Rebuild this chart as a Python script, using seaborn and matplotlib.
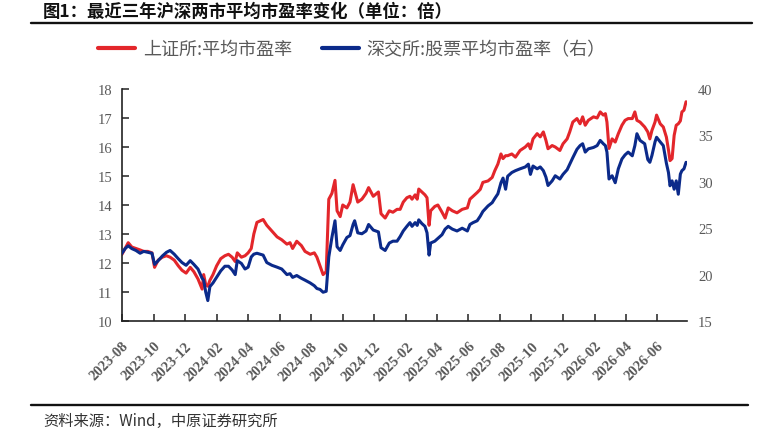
import matplotlib
matplotlib.use("Agg")
import matplotlib.pyplot as plt
from matplotlib.lines import Line2D
import pandas as pd
import seaborn as sns

dates = [
    "2023-08-01", "2023-08-07", "2023-08-13", "2023-08-20", "2023-08-28", "2023-09-05", "2023-09-12",
    "2023-09-20", "2023-09-28", "2023-10-03", "2023-10-10", "2023-10-18", "2023-10-26", "2023-11-02",
    "2023-11-10", "2023-11-18", "2023-11-25", "2023-12-03", "2023-12-11", "2023-12-18", "2023-12-26",
    "2024-01-03", "2024-01-06", "2024-01-10", "2024-01-14", "2024-01-18", "2024-01-24", "2024-01-31",
    "2024-02-08", "2024-02-16", "2024-02-23", "2024-03-01", "2024-03-07", "2024-03-11", "2024-03-19",
    "2024-03-26", "2024-04-01", "2024-04-07", "2024-04-12", "2024-04-18", "2024-04-24", "2024-04-30",
    "2024-05-07", "2024-05-17", "2024-05-27", "2024-06-05", "2024-06-15", "2024-06-21", "2024-06-26",
    "2024-07-04", "2024-07-13", "2024-07-20", "2024-07-30", "2024-08-07", "2024-08-12", "2024-08-18",
    "2024-08-24", "2024-08-30", "2024-09-04", "2024-09-10", "2024-09-16", "2024-09-20", "2024-09-26",
    "2024-10-01", "2024-10-09", "2024-10-15", "2024-10-21", "2024-10-24", "2024-10-30", "2024-11-07",
    "2024-11-15", "2024-11-20", "2024-11-29", "2024-12-09", "2024-12-14", "2024-12-22", "2024-12-30",
    "2025-01-06", "2025-01-14", "2025-01-20", "2025-01-26", "2025-02-02", "2025-02-08", "2025-02-12",
    "2025-02-18", "2025-02-22", "2025-02-25", "2025-03-03", "2025-03-09", "2025-03-13", "2025-03-17",
    "2025-03-20", "2025-03-28", "2025-04-03", "2025-04-11", "2025-04-17", "2025-04-23", "2025-05-01",
    "2025-05-10", "2025-05-20", "2025-05-30", "2025-06-04", "2025-06-10", "2025-06-18", "2025-06-24",
    "2025-06-29", "2025-07-09", "2025-07-17", "2025-07-22", "2025-07-28", "2025-08-03", "2025-08-07",
    "2025-08-12", "2025-08-16", "2025-08-24", "2025-08-31", "2025-09-09", "2025-09-19", "2025-09-25",
    "2025-09-29", "2025-10-04", "2025-10-12", "2025-10-18", "2025-10-24", "2025-10-29", "2025-11-02",
    "2025-11-10", "2025-11-16", "2025-11-25", "2025-12-01", "2025-12-09", "2025-12-14", "2025-12-20",
    "2025-12-28", "2026-01-03", "2026-01-08", "2026-01-13", "2026-01-19", "2026-01-29", "2026-02-05",
    "2026-02-11", "2026-02-17", "2026-02-21", "2026-02-24", "2026-02-28", "2026-03-06", "2026-03-12",
    "2026-03-18", "2026-03-25", "2026-03-31", "2026-04-06", "2026-04-14", "2026-04-19", "2026-04-23",
    "2026-04-29", "2026-05-08", "2026-05-14", "2026-05-18", "2026-05-22", "2026-05-28", "2026-05-31",
    "2026-06-07", "2026-06-13", "2026-06-19", "2026-06-23", "2026-06-26", "2026-06-30", "2026-07-04",
    "2026-07-08", "2026-07-12", "2026-07-16", "2026-07-19", "2026-07-23", "2026-07-27",
]

sse_pe = [
    12.30, 12.50, 12.70, 12.55, 12.50, 12.45, 12.40,
    12.40, 12.35, 11.85, 12.10, 12.20, 12.25, 12.20,
    12.10, 11.90, 11.75, 11.65, 11.85, 11.70, 11.45,
    11.10, 11.60, 11.25, 11.20, 11.40, 11.60, 11.90,
    12.15, 12.25, 12.30, 12.20, 12.05, 12.35, 12.20,
    12.25, 12.35, 12.50, 13.00, 13.40, 13.45, 13.50,
    13.30, 13.10, 12.90, 12.80, 12.65, 12.70, 12.50,
    12.75, 12.60, 12.40, 12.30, 12.35, 12.20, 11.90,
    11.60, 11.70, 14.20, 14.40, 14.85, 13.80, 13.60,
    14.00, 13.90, 14.10, 14.70, 14.50, 14.10, 14.20,
    14.40, 14.60, 14.30, 14.45, 13.70, 13.55, 13.80,
    13.75, 13.85, 13.85, 14.10, 14.25, 14.30, 14.20,
    14.35, 14.20, 14.55, 14.45, 14.35, 14.25, 13.30,
    13.80, 13.95, 14.00, 13.75, 13.55, 13.90, 13.80,
    13.73, 13.85, 13.90, 14.20, 14.30, 14.43, 14.54,
    14.78, 14.83, 14.95, 15.18, 15.41, 15.76, 15.60,
    15.70, 15.70, 15.76, 15.65, 15.88, 16.00, 16.11,
    15.94, 16.28, 16.46, 16.35, 16.52, 16.23, 15.94,
    16.05, 16.00, 15.88, 16.11, 16.28, 16.52, 16.86,
    16.98, 16.80, 17.04, 16.75, 16.92, 17.04, 17.00,
    17.21, 17.10, 17.15, 16.86, 15.95, 16.28, 16.17,
    16.46, 16.75, 16.92, 16.98, 16.98, 17.21, 16.92,
    16.86, 16.69, 16.52, 16.28, 16.57, 16.86, 17.10,
    16.80, 16.69, 16.34, 15.90, 15.53, 15.60, 16.40,
    16.75, 16.80, 16.90, 17.21, 17.27, 17.56,
]

szse_pe = [
    22.3, 22.8, 23.1, 22.8, 22.6, 22.3, 22.5,
    22.4, 22.3, 21.1, 21.5, 22.0, 22.4, 22.6,
    22.2, 21.7, 21.3, 21.0, 21.5, 21.1, 20.6,
    19.6, 19.4, 18.1, 17.2, 18.7, 19.1, 19.7,
    20.4, 20.9, 20.9, 20.5, 20.0, 21.5, 21.2,
    20.6, 20.8, 21.9, 22.2, 22.3, 22.2, 22.1,
    21.3, 21.0, 20.8, 20.6, 20.0, 20.1, 19.7,
    19.9, 19.6, 19.4, 19.1, 18.8, 18.5, 18.4,
    18.1, 18.2, 21.9, 24.0, 25.8, 23.0, 22.6,
    23.2, 24.0, 24.2, 25.4, 25.8, 24.5, 24.4,
    24.7, 25.4, 24.8, 24.6, 22.9, 22.6, 23.4,
    23.6, 23.6, 24.1, 24.7, 25.2, 25.6, 25.2,
    25.6, 25.3, 25.9, 25.5, 25.2, 24.5, 22.1,
    23.4, 23.6, 23.9, 24.3, 24.9, 25.2, 24.9,
    24.7, 25.0, 24.7, 25.4, 25.6, 25.8, 26.3,
    26.8, 27.4, 27.75, 28.2, 28.7, 29.9, 30.4,
    29.2, 30.6, 31.0, 31.2, 31.4, 31.6, 31.9,
    30.8, 31.7, 31.4, 31.6, 31.2, 30.5, 29.6,
    30.1, 30.65, 30.3, 30.8, 31.3, 31.9, 32.6,
    33.5, 33.9, 34.1, 33.2, 33.55, 33.7, 33.9,
    34.46, 34.1, 33.9, 33.2, 30.3, 30.65, 29.9,
    31.4, 32.46, 32.9, 33.2, 32.8, 33.9, 35.18,
    34.46, 34.1, 32.4, 32.1, 32.83, 34.3, 34.8,
    34.3, 33.9, 32.0, 31.0, 29.57, 30.1, 29.2,
    30.1, 28.66, 30.83, 31.2, 31.4, 32.1,
]

tick_labels = ["2023-08", "2023-10", "2023-12", "2024-02", "2024-04", "2024-06",
               "2024-08", "2024-10", "2024-12", "2025-02", "2025-04", "2025-06",
               "2025-08", "2025-10", "2025-12", "2026-02", "2026-04", "2026-06"]

title_text = "图1：最近三年沪深两市平均市盈率变化（单位：倍）"
source_text = "资料来源：Wind，中原证券研究所"
label_sse = "上证所:平均市盈率"
label_szse = "深交所:股票平均市盈率（右）"

df = pd.DataFrame({"date": pd.to_datetime(dates), "sse": sse_pe, "szse": szse_pe})

sns.set_theme(style="white")
plt.rcParams["font.family"] = ["Noto Sans CJK SC", "DejaVu Sans"]

RED = "#E3262B"
BLUE = "#0B2A8A"
GREY = "#595959"

fig = plt.figure(figsize=(7.79, 4.35), dpi=100)
ax = fig.add_axes([0.1566, 0.2598, 0.7254, 0.5333])
ax2 = ax.twinx()

sns.lineplot(data=df, x="date", y="sse", ax=ax, color=RED, linewidth=2.2, legend=False)
sns.lineplot(data=df, x="date", y="szse", ax=ax2, color=BLUE, linewidth=2.2, legend=False)

ax.set_xlim(pd.Timestamp("2023-08-01"), pd.Timestamp("2026-07-29"))
ax.set_ylim(10, 18)
ax2.set_ylim(15, 40)
ax.set_yticks(range(10, 19))
ax2.set_yticks(range(15, 41, 5))

ticks = pd.to_datetime([t + "-01" for t in tick_labels])
ax.set_xticks(ticks)
ax.set_xticklabels(tick_labels)

ax.set_xlabel("")
ax.set_ylabel("")
ax2.set_ylabel("")

for s in ["top", "right"]:
    ax.spines[s].set_visible(False)
for s in ["top", "right", "left", "bottom"]:
    ax2.spines[s].set_visible(False)
for s in ["left", "bottom"]:
    ax.spines[s].set_color("#222222")
    ax.spines[s].set_linewidth(1.2)

ax.tick_params(axis="y", direction="in", length=5, width=1.1, color="#222222", pad=7,
               labelsize=10.5, labelcolor=GREY, left=True)
ax.tick_params(axis="x", direction="in", length=5, width=1.1, color="#222222", pad=13,
               bottom=True)
ax2.tick_params(axis="y", length=0, pad=8, labelsize=10.5, labelcolor=GREY)

for lbl in ax.get_yticklabels() + ax2.get_yticklabels():
    lbl.set_fontfamily("Liberation Serif")
for lbl in ax.get_xticklabels():
    lbl.set_fontfamily("Liberation Serif")
    lbl.set_fontweight("bold")
    lbl.set_fontsize(10.5)
    lbl.set_color(GREY)
    lbl.set_rotation(45)
    lbl.set_ha("right")
    lbl.set_va("top")
    lbl.set_rotation_mode("anchor")

ax.grid(False)
ax2.grid(False)

handles = [Line2D([], [], color=RED, linewidth=3), Line2D([], [], color=BLUE, linewidth=3)]
leg = fig.legend(handles, [label_sse, label_szse], loc="center", bbox_to_anchor=(0.452, 0.885),
                 ncol=2, frameon=False, fontsize=13, handlelength=2.0, handletextpad=0.45,
                 columnspacing=1.7)
for t in leg.get_texts():
    t.set_color(GREY)

fig.text(0.0548, 0.973, title_text, fontsize=12.5, fontweight="bold", ha="left", va="center",
         color="#111111")
fig.add_artist(Line2D([0.0394, 0.9655], [0.944, 0.944], transform=fig.transFigure,
                      color="#111111", linewidth=1.7))
fig.add_artist(Line2D([0.0394, 0.960], [0.0667, 0.0667], transform=fig.transFigure,
                      color="#111111", linewidth=1.7))
fig.text(0.055, 0.032, source_text, fontsize=11, ha="left", va="center", color="#333333")

fig.savefig("out.png", dpi=100)
